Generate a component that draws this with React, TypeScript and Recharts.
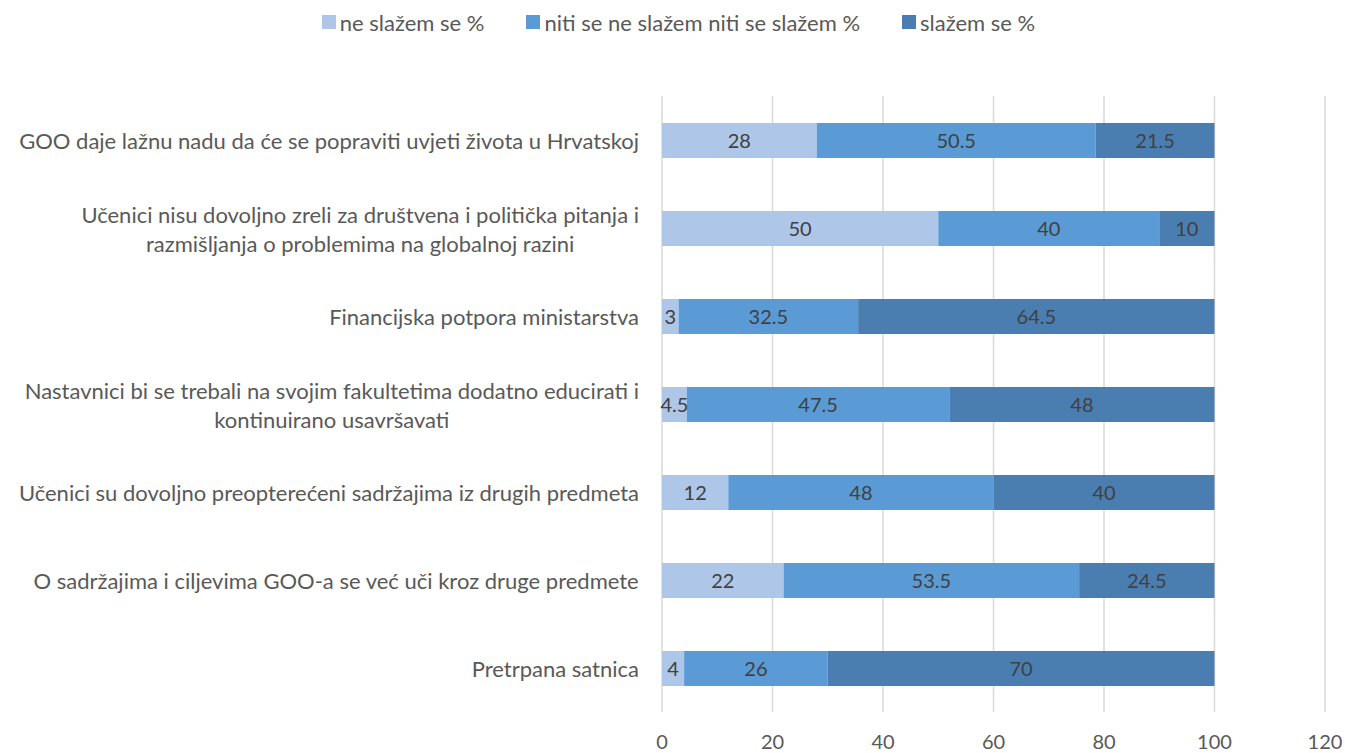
import React from "react";
import {
  BarChart,
  Bar,
  XAxis,
  YAxis,
  CartesianGrid,
  Legend,
  LabelList,
} from "recharts";

if (typeof document !== "undefined") {
  document.body.style.margin = "0";
}

const FONT = "Lato, 'Open Sans', sans-serif";

const categories = [
  "GOO daje lažnu nadu da će se popraviti uvjeti života u Hrvatskoj",
  "Učenici nisu dovoljno zreli za društvena i politička pitanja i\nrazmišljanja o problemima na globalnoj razini",
  "Financijska potpora ministarstva",
  "Nastavnici bi se trebali na svojim fakultetima dodatno educirati i\nkontinuirano usavršavati",
  "Učenici su dovoljno preopterećeni sadržajima iz drugih predmeta",
  "O sadržajima i ciljevima GOO-a se već uči kroz druge predmete",
  "Pretrpana satnica",
];

const neSlazem = [28, 50, 3, 4.5, 12, 22, 4];
const niti = [50.5, 40, 32.5, 47.5, 48, 53.5, 26];
const slazem = [21.5, 10, 64.5, 48, 40, 24.5, 70];

const xTicks = [0, 20, 40, 60, 80, 100, 120];

const seriesNames = ["ne slažem se %", "niti se ne slažem niti se slažem %", "slažem se %"];
const seriesColors = ["#AEC6E7", "#5B9BD5", "#4A7EB1"];

const data = categories.map((name, i) => ({
  name,
  a: neSlazem[i],
  b: niti[i],
  c: slazem[i],
}));

let ctx: CanvasRenderingContext2D | null = null;
function measure(text: string, size: number) {
  if (!ctx) ctx = document.createElement("canvas").getContext("2d");
  if (!ctx) return text.length * size * 0.5;
  ctx.font = `${size}px ${FONT}`;
  return ctx.measureText(text).width;
}

function CategoryTick(props: any) {
  const { x, y, payload } = props;
  const lines: string[] = String(payload.value).split("\n");
  const size = 22;
  const lh = 29;
  const maxW = Math.max(...lines.map((l) => measure(l, size)));
  const cx = x - maxW / 2;
  const startY = y - ((lines.length - 1) * lh) / 2;
  return (
    <text
      x={cx}
      y={startY}
      textAnchor="middle"
      dominantBaseline="central"
      fill="#595959"
      fontSize={size}
      fontFamily={FONT}
    >
      {lines.map((l, i) => (
        <tspan key={i} x={cx} y={startY + i * lh}>
          {l}
        </tspan>
      ))}
    </text>
  );
}

function LegendContent() {
  return (
    <div
      style={{
        height: 30,
        display: "flex",
        justifyContent: "center",
        alignItems: "center",
        fontFamily: FONT,
        fontSize: 22,
        color: "#595959",
        gap: 42,
        paddingLeft: 32,
      }}
    >
      {seriesNames.map((n, i) => (
        <span key={n} style={{ display: "flex", alignItems: "center" }}>
          <span
            style={{
              width: 14,
              height: 14,
              background: seriesColors[i],
              display: "inline-block",
              marginRight: 4,
            }}
          />
          {n}
        </span>
      ))}
    </div>
  );
}

export default function App() {
  const keys = ["a", "b", "c"];
  return (
    <div style={{ width: 1345, height: 753, background: "#fff" }}>
      <BarChart
        width={1345}
        height={753}
        data={data}
        layout="vertical"
        margin={{ top: 66, right: 20, left: 0, bottom: 0 }}
      >
        <CartesianGrid horizontal={false} stroke="#D9D9D9" strokeWidth={1.5} />
        <XAxis
          type="number"
          domain={[0, 120]}
          ticks={xTicks}
          axisLine={false}
          tickLine={false}
          tickSize={0}
          tickMargin={23}
          height={41}
          tick={{ fill: "#595959", fontSize: 20, fontFamily: FONT }}
        />
        <YAxis
          type="category"
          dataKey="name"
          width={662}
          axisLine={false}
          tickLine={false}
          tickSize={0}
          tickMargin={23}
          tick={<CategoryTick />}
          interval={0}
        />
        <Legend
          verticalAlign="top"
          align="center"
          wrapperStyle={{ top: 7 }}
          content={<LegendContent />}
        />
        {keys.map((k, i) => (
          <Bar
            key={k}
            dataKey={k}
            name={seriesNames[i]}
            stackId="s"
            fill={seriesColors[i]}
            barSize={35}
            isAnimationActive={false}
          >
            <LabelList
              dataKey={k}
              position="center"
              fill="#404040"
              fontSize={20}
              fontFamily={FONT}
            />
          </Bar>
        ))}
      </BarChart>
    </div>
  );
}
